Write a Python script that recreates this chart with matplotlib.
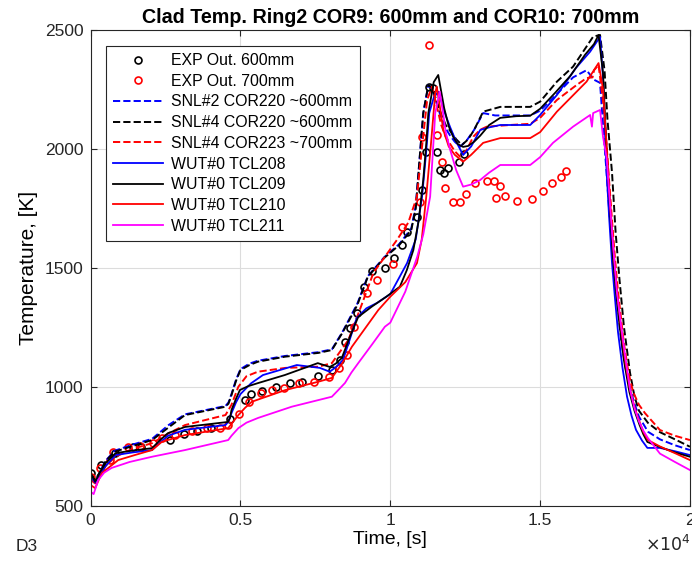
import numpy as np
import matplotlib
matplotlib.use("Agg")
import matplotlib.pyplot as plt
from matplotlib.ticker import FuncFormatter

plt.rcParams['font.family'] = ['Liberation Sans', 'DejaVu Sans']

#### data (time in s, temperature in K)
# EXP Out. 600mm
exp600_t = [0, 360, 800, 1430, 1690, 2650, 3110, 3550, 4020, 4650, 5150, 5350, 5720, 6170,
            6650, 7050, 7600, 8050, 8320, 8480, 8650, 8890, 9110, 9390, 9830, 10130, 10390,
            10560, 10890, 11060, 11200, 11300, 11420, 11560, 11670, 11780, 11940, 12280, 12450]
exp600_T = [639, 672, 724, 749, 749, 777, 804, 815, 829, 865, 944, 970, 984, 1001,
            1015, 1022, 1046, 1072, 1113, 1190, 1246, 1309, 1421, 1488, 1498, 1540, 1596,
            1652, 1715, 1827, 1988, 2261, 2255, 1988, 1911, 1897, 1918, 1946, 1978]
# EXP Out. 700mm
exp700_t = [0, 320, 640, 750, 1260, 1650, 2090, 2370, 2820, 3370, 3870, 4320, 4600, 4950,
            5280, 5670, 6050, 6440, 6940, 7440, 7940, 8280, 8560, 8780, 9220, 9560, 10080,
            10390, 11000, 11060, 11280, 11560, 11720, 11830, 12080, 12330, 12530, 12830,
            13220, 13470, 13530, 13670, 13830, 14220, 14720, 15090, 15410, 15700, 15860]
exp700_T = [623, 658, 693, 728, 749, 752, 763, 784, 798, 815, 829, 829, 840, 886,
            938, 976, 987, 994, 1015, 1022, 1043, 1078, 1134, 1253, 1393, 1449, 1516,
            1673, 1778, 2051, 2436, 2058, 1946, 1834, 1778, 1778, 1810, 1855,
            1866, 1866, 1792, 1844, 1803, 1782, 1789, 1823, 1855, 1883, 1907]

# SNL#2 COR220 ~600mm
snl2_t = [0, 150, 300, 500, 800, 1400, 2050, 2600, 3150, 4500, 4600, 4700, 4850, 5000, 5300,
          5580, 6480, 7600, 8050, 8400, 8900, 9250, 9800, 10300, 10700, 10850, 10950, 11100,
          11270, 11400, 11550, 11700, 11850, 12000, 12150, 12330, 12550, 12800, 13100, 13500,
          14670, 15000, 15560, 16100, 16550, 16800, 17000, 17100, 17200, 17300, 17400, 17500,
          17600, 17700, 17850, 18000, 18150, 18300, 18600, 19000, 19500, 20000]
snl2_T = [625, 605, 640, 690, 732, 758, 782, 840, 885, 920, 935, 970, 1030, 1075, 1098,
          1110, 1130, 1146, 1158, 1230, 1350, 1465, 1545, 1600, 1665, 1760, 1915, 2150,
          2268, 2250, 2190, 2130, 2085, 2055, 2030, 2009, 2035, 2080, 2150, 2140,
          2140, 2160, 2230, 2300, 2330, 2290, 2277, 2100, 1930, 1750, 1590, 1450,
          1330, 1200, 1080, 995, 930, 875, 812, 780, 755, 735]
# SNL#4 COR220 ~600mm
snl4a_t = [0, 150, 300, 500, 800, 1400, 2050, 2600, 3150, 4500, 4600, 4700, 4850, 5000, 5300,
           5580, 6480, 7600, 8050, 8400, 8900, 9250, 9800, 10300, 10700, 10850, 10950, 11100,
           11270, 11400, 11550, 11700, 11850, 12000, 12200, 12390, 12600, 12800, 13100, 13670,
           14670, 15000, 15560, 16100, 16500, 16770, 17000, 17150, 17250, 17400, 17520, 17650,
           17800, 18000, 18150, 18300, 18600, 19000, 19500, 20000]
snl4a_T = [630, 610, 640, 688, 728, 752, 777, 830, 882, 917, 930, 966, 1025, 1071, 1092,
           1106, 1127, 1143, 1155, 1227, 1344, 1463, 1542, 1596, 1659, 1750, 1911, 2150,
           2268, 2255, 2200, 2145, 2100, 2075, 2040, 2016, 2040, 2080, 2156, 2176,
           2176, 2198, 2282, 2345, 2420, 2471, 2478, 2330, 2120, 1900, 1650, 1450,
           1250, 1060, 960, 900, 849, 810, 780, 749]
# SNL#4 COR223 ~700mm
snl4b_t = [0, 150, 300, 500, 830, 1400, 2050, 2600, 3150, 4500, 4700, 4930, 5200, 5580, 6500,
           7600, 8050, 8600, 9000, 9440, 10220, 10600, 10890, 11060, 11230, 11390, 11550,
           11700, 11850, 12000, 12150, 12330, 12550, 12770, 13000, 13220, 14000, 14670, 15000,
           15560, 16220, 16550, 16750, 16800, 16950, 17100, 17200, 17300, 17400, 17500, 17600,
           17800, 17950, 18100, 18300, 18500, 19000, 19500, 20000]
snl4b_T = [610, 595, 625, 668, 707, 740, 764, 805, 840, 882, 925, 1001, 1045, 1064, 1080,
           1085, 1100, 1197, 1330, 1480, 1617, 1690, 1799, 2009, 2205, 2261, 2180,
           2100, 2050, 2020, 1990, 1967, 1995, 2051, 2080, 2093, 2100, 2105, 2130,
           2205, 2268, 2297, 2300, 2330, 2352, 2200, 2050, 1870, 1700, 1540, 1400,
           1180, 1060, 980, 925, 890, 819, 795, 777]

# WUT#0 TCL208
wut208_t = [0, 150, 300, 500, 830, 1400, 2050, 2300, 2580, 3150, 4500, 4600, 4700, 4850, 5000,
            5350, 5750, 6880, 7650, 7980, 8200, 8420, 8650, 8880, 9200, 9560, 10000, 10560,
            10850, 11060, 11200, 11300, 11450, 11600, 11700, 11850, 12000, 12200, 12430, 12700,
            13000, 13300, 13670, 14670, 15000, 15560, 16200, 16670, 17000, 17100, 17200, 17300,
            17400, 17500, 17600, 17750, 17900, 18050, 18200, 18400, 18580, 19000, 19500, 20000]
wut208_T = [625, 598, 630, 668, 714, 725, 735, 765, 795, 820, 840, 855, 890, 935, 970,
            1015, 1050, 1092, 1080, 1064, 1085, 1113, 1200, 1290, 1330, 1353, 1390, 1520,
            1620, 1799, 1990, 2150, 2215, 2240, 2200, 2140, 2090, 2030, 1974, 2010,
            2079, 2090, 2100, 2100, 2142, 2226, 2340, 2408, 2470, 2300, 1950, 1720,
            1520, 1370, 1230, 1080, 960, 880, 820, 775, 744, 744, 730, 714]
# WUT#0 TCL209
wut209_t = [0, 150, 300, 500, 830, 1400, 2050, 2300, 2580, 3150, 4580, 4650, 4700, 4850, 4980,
            5250, 5580, 6480, 7580, 7980, 8180, 8380, 8650, 8930, 9380, 9880, 10320, 10550,
            10770, 10950, 11100, 11200, 11270, 11450, 11600, 11700, 11800, 11950, 12100, 12250,
            12430, 12600, 12800, 13000, 13300, 13670, 14200, 14670, 15000, 15500, 16000, 16500,
            16800, 16950, 17100, 17220, 17330, 17430, 17540, 17650, 17800, 17980, 18150, 18320,
            18450, 18580, 18800, 19080, 19500, 20000]
wut209_T = [639, 602, 640, 680, 722, 733, 743, 775, 806, 832, 853, 870, 903, 950, 987,
            1003, 1016, 1050, 1100, 1084, 1098, 1121, 1210, 1294, 1337, 1380, 1421, 1490,
            1575, 1700, 1869, 2020, 2150, 2280, 2310, 2240, 2170, 2095, 2050, 2020,
            2008, 2012, 2030, 2055, 2100, 2130, 2137, 2139, 2168, 2235, 2305, 2395,
            2440, 2478, 2318, 1988, 1750, 1541, 1390, 1260, 1110, 979, 900, 840,
            800, 769, 758, 744, 725, 707]
# WUT#0 TCL210
wut210_t = [0, 150, 370, 920, 1500, 2050, 2380, 3150, 4590, 4700, 4930, 5150, 5380, 6500, 7600,
            8050, 8400, 8720, 9600, 10000, 10500, 10890, 11050, 11200, 11350, 11500, 11550,
            11650, 11770, 11950, 12150, 12430, 12700, 13100, 13670, 14670, 15000, 15560, 16220,
            16550, 16950, 17100, 17200, 17300, 17400, 17500, 17600, 17700, 17850, 18000, 18150,
            18300, 18450, 18600, 19000, 19500, 20000]
wut210_T = [588, 575, 638, 693, 715, 735, 770, 798, 827, 845, 882, 912, 938, 987, 1022,
            1038, 1100, 1169, 1323, 1379, 1440, 1520, 1620, 1799, 2010, 2234, 2261,
            2180, 2079, 2010, 1975, 1946, 1975, 2025, 2045, 2045, 2070, 2156, 2240,
            2282, 2360, 2250, 2050, 1850, 1660, 1500, 1370, 1250, 1100, 990, 915,
            860, 810, 777, 750, 722, 693]
# WUT#0 TCL211
wut211_t = [0, 100, 250, 450, 700, 1300, 2050, 3150, 4590, 4700, 4930, 5200, 5590, 6710, 8050,
            8250, 8490, 8700, 8930, 9400, 9820, 10000, 10500, 10900, 11100, 11330, 11500, 11650,
            11750, 11850, 12000, 12200, 12430, 12700, 13000, 13300, 13670, 14670, 15000, 15430,
            16100, 16670, 16730, 16770, 17000, 17100, 17220, 17400, 17560, 17700, 17850, 18000,
            18150, 18300, 18450, 18600, 19000, 19500, 20000]
wut211_T = [560, 550, 609, 640, 660, 685, 707, 735, 777, 795, 827, 850, 870, 917, 959,
            985, 1017, 1060, 1100, 1180, 1253, 1270, 1400, 1547, 1640, 1799, 2150, 2240,
            2160, 2070, 1995, 1910, 1841, 1850, 1869, 1900, 1932, 1932, 1965, 2025,
            2093, 2142, 2093, 2150, 2163, 2050, 1962, 1650, 1400, 1260, 1120, 990,
            910, 855, 815, 785, 720, 685, 651]

#### figure
fig = plt.figure(figsize=(6.92, 5.61), dpi=100)
ax = fig.add_axes([0.131, 0.098, 0.866, 0.849])

ax.plot(exp600_t, exp600_T, 'o', mfc='none', mec='black', ms=5, mew=1.2, label='EXP Out. 600mm')
ax.plot(exp700_t, exp700_T, 'o', mfc='none', mec='red', ms=5, mew=1.2, label='EXP Out. 700mm')
ax.plot(snl2_t, snl2_T, '--', color='blue', lw=1.4, label='SNL#2 COR220 ~600mm')
ax.plot(snl4a_t, snl4a_T, '--', color='black', lw=1.4, label='SNL#4 COR220 ~600mm')
ax.plot(snl4b_t, snl4b_T, '--', color='red', lw=1.4, label='SNL#4 COR223 ~700mm')
ax.plot(wut208_t, wut208_T, '-', color='blue', lw=1.3, label='WUT#0 TCL208')
ax.plot(wut209_t, wut209_T, '-', color='black', lw=1.3, label='WUT#0 TCL209')
ax.plot(wut210_t, wut210_T, '-', color='red', lw=1.3, label='WUT#0 TCL210')
ax.plot(wut211_t, wut211_T, '-', color='magenta', lw=1.3, label='WUT#0 TCL211')

ax.set_xlim(0, 20000)
ax.set_ylim(500, 2500)
ax.set_xticks([0, 5000, 10000, 15000, 20000])
ax.set_yticks([500, 1000, 1500, 2000, 2500])
ax.xaxis.set_major_formatter(FuncFormatter(lambda v, p: f"{v/1e4:g}"))
ax.grid(True, color='#dcdcdc', lw=0.8)
ax.tick_params(direction='in', top=True, right=True, length=4, labelsize=12.5,
               colors='#262626', pad=5)
for s in ax.spines.values():
    s.set_color('#262626')
    s.set_linewidth(0.8)

ax.set_title('Clad Temp. Ring2 COR9: 600mm and COR10: 700mm', fontsize=14.2,
             fontweight='bold', pad=5)
ax.set_xlabel('Time, [s]', fontsize=14, labelpad=2)
ax.set_ylabel('Temperature, [K]', fontsize=15, labelpad=5)
fig.text(0.999, 0.017, r'$\times10^{4}$', fontsize=12.5, color='#262626', ha='right')
fig.text(0.022, 0.017, 'D3', fontsize=12.5, color='#262626')

leg = ax.legend(loc='upper left', bbox_to_anchor=(0.025, 0.966), borderaxespad=0,
                fontsize=11.4, handlelength=3.2, labelspacing=0.36, borderpad=0.45,
                handletextpad=0.5, fancybox=False, framealpha=1, edgecolor='#262626')
leg.get_frame().set_linewidth(0.8)

fig.savefig('out.png', dpi=100)
